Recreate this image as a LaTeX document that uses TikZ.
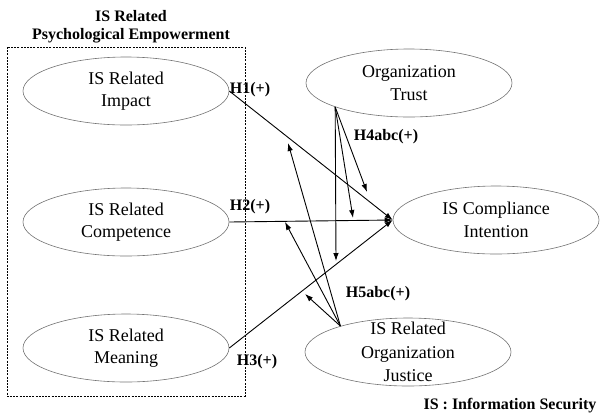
\documentclass[tikz,border=0pt]{standalone}
\usepackage{fontspec}
\setmainfont{Liberation Serif}
\usetikzlibrary{arrows.meta,shapes.geometric}

\begin{document}
\begin{tikzpicture}[x=1pt,y=-1pt,
  construct/.style={ellipse,draw=black!55,line width=0.6pt,minimum width=206pt,minimum height=68pt,inner sep=0pt,align=center,font=\fontsize{18}{22.5}\selectfont},
  hyp/.style={line width=0.9pt,-{Latex[length=8pt,width=5.5pt]}},
  mod/.style={line width=0.9pt,-{Latex[length=8pt,width=5.5pt]}},
  lab/.style={font=\bfseries\fontsize{16}{18}\selectfont}]
  \useasboundingbox (0,0) rectangle (601,416);
  % psychological empowerment block
  \node[lab,align=center] (title) at (131,27) {IS Related\\Psychological Empowerment};
  \draw[line width=0.7pt,dash pattern=on 2pt off 1.2pt] (7,47) rectangle (245,396);
  \node[construct] (imp) at (126,91) {IS Related\\Impact};
  \node[construct] (cmp) at (126,222) {IS Related\\Competence};
  \node[construct] (mea) at (126,348) {IS Related\\Meaning};
  % moderators and outcome
  \node[construct] (tru) at (409,83) {Organization\\Trust};
  \node[construct,label={[align=center,font=\fontsize{18}{23.5}\selectfont]center:IS Related\\Organization\\Justice}] (jus) at (408,352) {};
  \node[construct] (cmi) at (496,220) {IS Compliance\\Intention};
  % hypotheses
  \draw[hyp] (imp.east) -- (cmi.west);
  \draw[hyp] (cmp.east) -- (cmi.west);
  \draw[hyp] (mea.east) -- (cmi.west);
  \coordinate (t1) at (367,192);
  \coordinate (t2) at (353,218);
  \coordinate (t3) at (336,261);
  \coordinate (j1) at (288,143);
  \coordinate (j2) at (285,222);
  \coordinate (j3) at (305,294);
  \draw[mod] (tru.198) -- (t1);
  \draw[mod] (tru.198) -- (t2);
  \draw[mod] (tru.198) -- (t3);
  \draw[mod] (jus.159) -- (j1);
  \draw[mod] (jus.159) -- (j2);
  \draw[mod] (jus.159) -- (j3);
  \node[lab] (h1) at (250,90) {H1(+)};
  \node[lab] (h2) at (250,207) {H2(+)};
  \node[lab] (h3) at (257,362) {H3(+)};
  \node[lab] (h4) at (386,137) {H4abc(+)};
  \node[lab] (h5) at (378,294) {H5abc(+)};
  \node[lab] (note) at (510,406) {IS : Information Security};
\end{tikzpicture}
\end{document}
